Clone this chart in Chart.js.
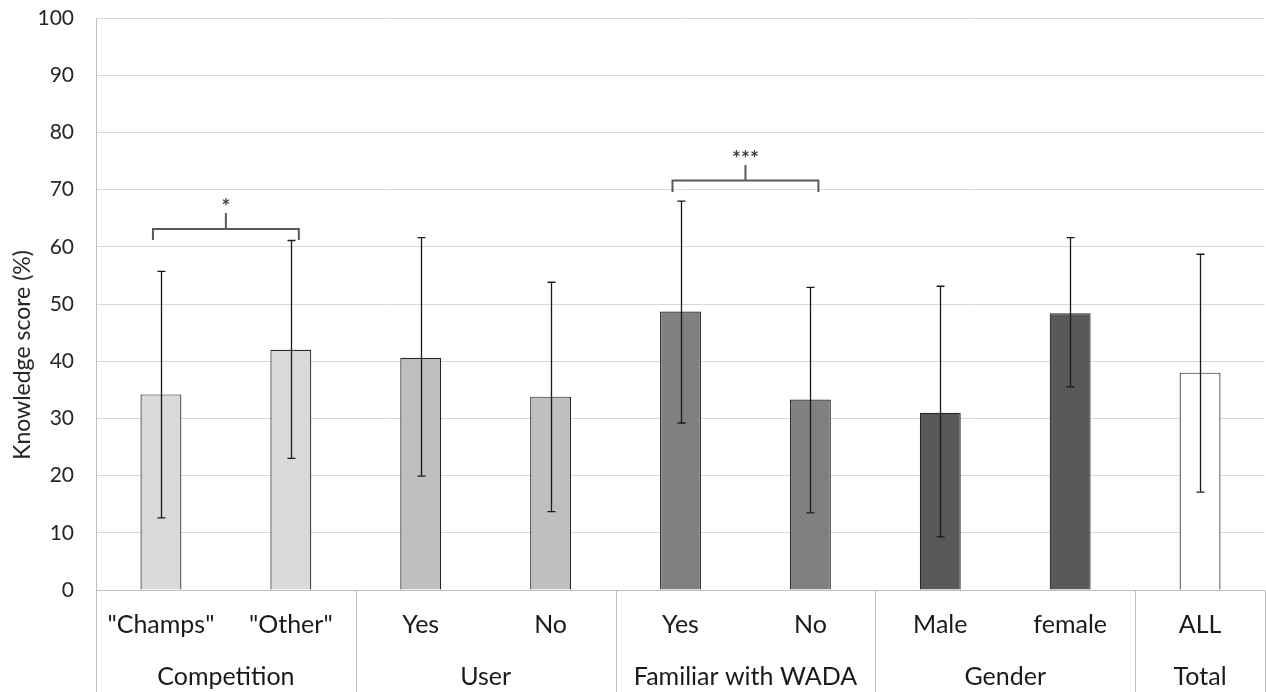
<!DOCTYPE html>
<html>
<head>
<meta charset="utf-8">
<script src="https://cdn.jsdelivr.net/npm/chart.js@4"></script>
<style>
  body { margin: 0; background: #fff; }
  #wrap { width: 1266px; height: 692px; }
</style>
</head>
<body>
<div id="wrap"><canvas id="grafico" width="1266" height="692"></canvas></div>
<script>
// Datos
const categorias = ['"Champs"', '"Other"', 'Yes', 'No', 'Yes', 'No', 'Male', 'female', 'ALL'];
const grupos = ['Competition', 'User', 'Familiar with WADA', 'Gender', 'Total'];
const tamanoGrupos = [2, 2, 2, 2, 1];
const medias = [34.2, 42.0, 40.6, 33.8, 48.7, 33.3, 31.0, 48.4, 38.0];
const errorBajo = [12.6, 23.0, 19.9, 13.7, 29.2, 13.5, 9.3, 35.5, 17.1];
const errorAlto = [55.7, 61.1, 61.6, 53.8, 68.0, 52.9, 53.1, 61.6, 58.7];
const coloresBarras = ['#d9d9d9', '#d9d9d9', '#bfbfbf', '#bfbfbf', '#808080', '#808080', '#595959', '#595959', '#ffffff'];
const ticksY = [0, 10, 20, 30, 40, 50, 60, 70, 80, 90, 100];
const tituloY = 'Knowledge score (%)';

// Corchetes de significancia
const corchetes = [
    { desde: 0, hasta: 1, nivel: 63.1, pie: 61.2, tallo: 65.9, texto: '*' },
    { desde: 4, hasta: 5, nivel: 71.6, pie: 69.6, tallo: 74.3, texto: '***' }
];

const fuente = 'Lato, "Open Sans", sans-serif';

// Barras de error y corchetes
const pluginErrores = {
    id: 'errores',
    afterDatasetsDraw(chart) {
        const ctx = chart.ctx;
        const y = chart.scales.y;
        const meta = chart.getDatasetMeta(0);
        ctx.save();
        ctx.strokeStyle = '#1a1a1a';
        ctx.lineWidth = 1.3;
        meta.data.forEach((barra, i) => {
            const x = Math.round(barra.x) + 0.5;
            const y1 = y.getPixelForValue(errorBajo[i]);
            const y2 = y.getPixelForValue(errorAlto[i]);
            ctx.beginPath();
            ctx.moveTo(x, y1); ctx.lineTo(x, y2);
            ctx.moveTo(x - 4, y1); ctx.lineTo(x + 4, y1);
            ctx.moveTo(x - 4, y2); ctx.lineTo(x + 4, y2);
            ctx.stroke();
        });

        ctx.strokeStyle = '#595959';
        ctx.lineWidth = 2;
        ctx.fillStyle = '#404040';
        ctx.font = 'bold 21px ' + fuente;
        ctx.textAlign = 'center';
        ctx.textBaseline = 'middle';
        corchetes.forEach(c => {
            const xa = meta.data[c.desde].x - 8;
            const xb = meta.data[c.hasta].x + 8;
            const xm = (xa + xb) / 2;
            const yn = y.getPixelForValue(c.nivel);
            const yp = y.getPixelForValue(c.pie);
            const yt = y.getPixelForValue(c.tallo);
            ctx.beginPath();
            ctx.moveTo(xa, yp); ctx.lineTo(xa, yn); ctx.lineTo(xb, yn); ctx.lineTo(xb, yp);
            ctx.moveTo(xm, yn); ctx.lineTo(xm, yt);
            ctx.stroke();
            ctx.fillText(c.texto, xm, yt - 6);
        });
        ctx.restore();
    }
};

// Etiquetas de grupo, separadores y titulo del eje Y
const pluginGrupos = {
    id: 'grupos',
    afterDraw(chart) {
        const ctx = chart.ctx;
        const area = chart.chartArea;
        const ancho = (area.right - area.left) / categorias.length;
        ctx.save();
        ctx.strokeStyle = '#bfbfbf';
        ctx.lineWidth = 1;
        ctx.fillStyle = '#1a1a1a';
        ctx.font = '25px ' + fuente;
        ctx.textAlign = 'center';
        ctx.textBaseline = 'middle';
        let inicio = 0;
        const bordes = [0];
        grupos.forEach((g, i) => {
            const fin = inicio + tamanoGrupos[i];
            const xa = area.left + inicio * ancho;
            const xb = area.left + fin * ancho;
            ctx.fillText(g, (xa + xb) / 2, 677);
            bordes.push(fin);
            inicio = fin;
        });
        bordes.forEach(b => {
            const x = Math.round(area.left + b * ancho) + 0.5;
            ctx.beginPath();
            ctx.moveTo(x, b === 0 ? area.top : area.bottom);
            ctx.lineTo(x, chart.height);
            ctx.stroke();
        });

        // titulo Y centrado en toda la altura del grafico
        ctx.translate(23, (area.top + chart.height) / 2);
        ctx.rotate(-Math.PI / 2);
        ctx.fillStyle = '#262626';
        ctx.font = '23px ' + fuente;
        ctx.fillText(tituloY, 0, 0);
        ctx.restore();
    }
};

const ctx = document.getElementById('grafico').getContext('2d');
const grafico = new Chart(ctx, {
    type: 'bar',
    data: {
        labels: categorias,
        datasets: [{
            data: medias,
            backgroundColor: coloresBarras,
            borderColor: '#262626',
            borderWidth: 1.2,
            barPercentage: 0.315,
            categoryPercentage: 1
        }]
    },
    options: {
        responsive: false,
        animation: false,
        layout: { padding: { top: 18, right: 1, left: 0, bottom: 0 } },
        plugins: {
            legend: { display: false },
            tooltip: { enabled: false }
        },
        scales: {
            x: {
                grid: { display: false, drawTicks: false },
                border: { color: '#bfbfbf', width: 1 },
                ticks: {
                    color: '#1a1a1a',
                    font: { family: fuente, size: 25 },
                    padding: 20,
                    maxRotation: 0,
                    autoSkip: false
                },
                afterFit(scale) { scale.height = 102; scale.paddingLeft = 0; scale.paddingRight = 0; }
            },
            y: {
                min: 0,
                max: 100,
                afterBuildTicks(scale) { scale.ticks = ticksY.map(v => ({ value: v })); },
                grid: { color: '#d9d9d9', drawTicks: false },
                border: { display: false },
                ticks: {
                    color: '#262626',
                    font: { family: fuente, size: 21 },
                    padding: 22
                },
                afterFit(scale) { scale.width = 96; scale.paddingTop = 0; scale.paddingBottom = 0; }
            }
        }
    },
    plugins: [pluginErrores, pluginGrupos]
});
</script>
</body>
</html>
